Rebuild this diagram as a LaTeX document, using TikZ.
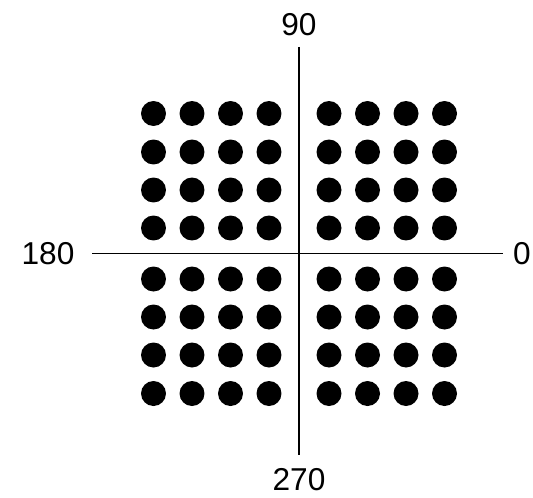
\documentclass[tikz,border=0pt]{standalone}
\usepackage{fontspec}
\setmainfont{Liberation Sans}
\usepackage{tikz}
\usetikzlibrary{positioning}

\begin{document}
\begin{tikzpicture}[
  x=0.02cm, y=0.02cm,
  axislbl/.style={font=\fontsize{18}{20}\selectfont, inner sep=0pt},
  axisline/.style={draw=black, line width=1.1pt},
  symdot/.style={circle, fill=black, inner sep=0pt, minimum size=0.5cm},
]
\useasboundingbox (-299,-243.5) rectangle (234,253.5);

% ===================== Axes =====================
\coordinate (ytop) at (0,206.5);
\coordinate (ybot) at (0,-201.5);
\coordinate (xlft) at (-206.5,0);
\coordinate (xrgt) at (204,0);
\draw[axisline] (xlft) -- (xrgt);
\draw[axisline] (ytop) -- (ybot);

\node[axislbl] (lbl90)  at (0,228.5)   {90};
\node[axislbl] (lbl270) at (0,-226.5)  {270};
\node[axislbl] (lbl180) at (-251,0)    {180};
\node[axislbl] (lbl0)   at (223,0)     {0};

% ===================== Constellation points =====================
\foreach \x [count=\i] in {-145.5,-107,-68.5,-30,30,68.5,107,145.5}
  \foreach \y [count=\j] in {140,101.5,63.5,25.5,-25.5,-63.5,-101.5,-140}
    \node[symdot] (pt-\i-\j) at (\x,\y) {};

\end{tikzpicture}
\end{document}
